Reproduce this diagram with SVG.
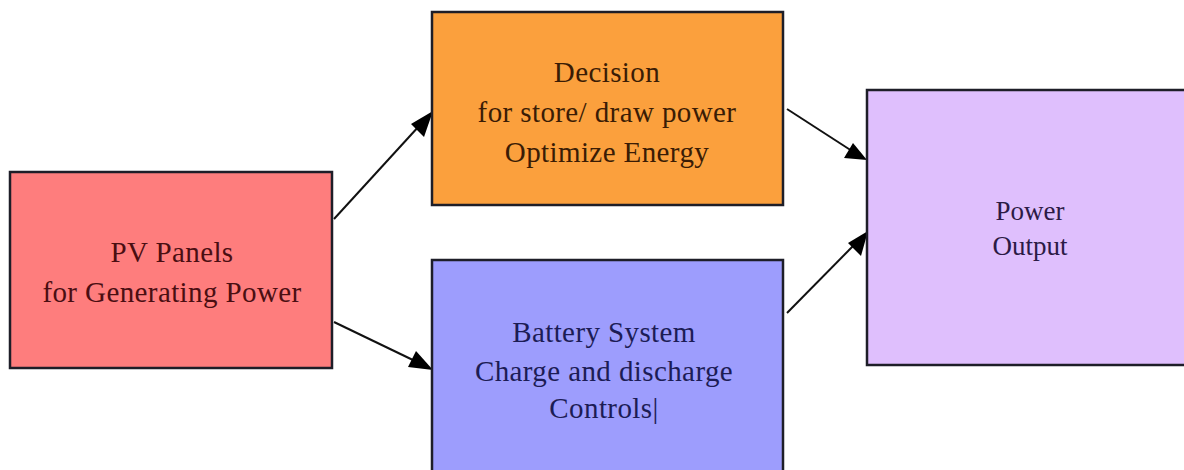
<svg xmlns="http://www.w3.org/2000/svg" width="1184" height="470" viewBox="0 0 1184 470">
<style>
.box{stroke:#1e1e28;stroke-width:2.5}
.t{font-family:"Liberation Serif","Times New Roman",serif;font-size:29px;letter-spacing:0.4px;text-anchor:middle}
.edge{stroke:#111;stroke-width:2;fill:none}
.head{fill:#000}
</style>
<rect width="1184" height="470" fill="#fff"/>
<g id="connectors">
<path d="M334,219 L420,125" class="edge"/>
<path d="M334,322 L415,361" class="edge"/>
<path d="M787,109 L852,151" class="edge"/>
<path d="M787,313 L855,244" class="edge"/>
<polygon class="head" points="433,111 411,124 424,137"/>
<polygon class="head" points="433,370 408,367 416,351"/>
<polygon class="head" points="867,160 844,158 853,143"/>
<polygon class="head" points="868,231 848,243 861,256"/>
</g>
<g id="pv">
<rect class="box" x="10" y="172" width="322" height="196" fill="#fe7d7d"/>
<text class="t" fill="#4a0e12"><tspan x="172" y="262">PV Panels</tspan><tspan x="172" y="302">for Generating Power</tspan></text>
</g>
<g id="decision">
<rect class="box" x="432" y="12" width="351" height="193" fill="#fba03d"/>
<text class="t" fill="#3a1c05"><tspan x="607" y="82">Decision</tspan><tspan x="607" y="122">for store/ draw power</tspan><tspan x="607" y="162">Optimize Energy</tspan></text>
</g>
<g id="battery">
<rect class="box" x="432" y="260" width="351" height="220" fill="#9d9dfd"/>
<text class="t" fill="#1c1c55"><tspan x="604" y="342">Battery System</tspan><tspan x="604" y="381">Charge and discharge</tspan><tspan x="604" y="418">Controls|</tspan></text>
</g>
<g id="output">
<rect class="box" x="867" y="90" width="330" height="275" fill="#dfbffd"/>
<text class="t" fill="#2c1a45" style="font-size:27px;letter-spacing:0"><tspan x="1030" y="220">Power</tspan><tspan x="1030" y="255">Output</tspan></text>
</g>
</svg>
